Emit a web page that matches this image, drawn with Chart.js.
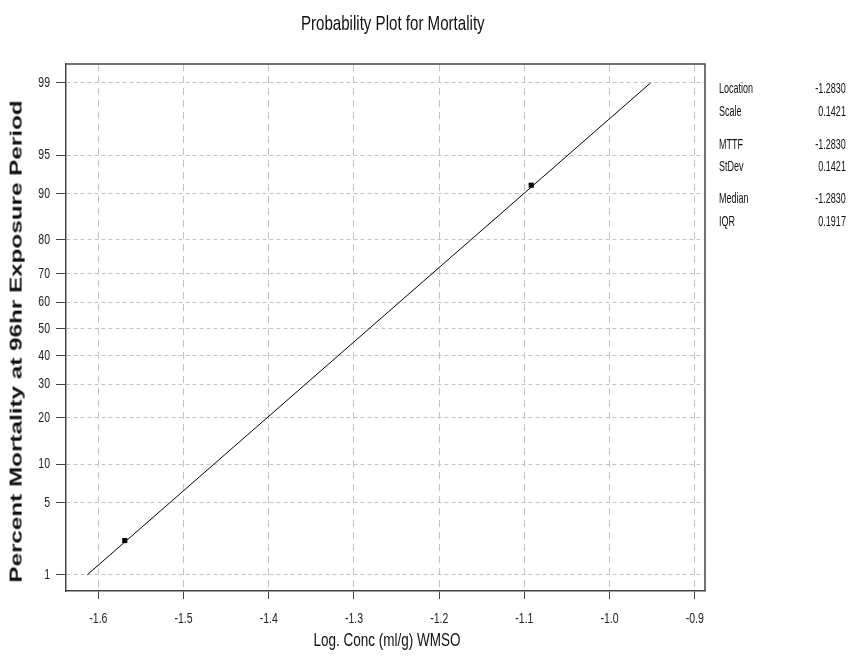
<!DOCTYPE html>
<html><head><meta charset="utf-8">
<script src="https://cdn.jsdelivr.net/npm/chart.js@4.4.1/dist/chart.umd.min.js"></script>
<style>
html,body{margin:0;padding:0;background:#fff;}
#wrap{position:relative;width:848px;height:660px;overflow:hidden;background:#fff;}
canvas{position:absolute;left:0;top:0;}
.t{position:absolute;white-space:nowrap;line-height:1;font-family:"Liberation Sans",Arial,sans-serif;color:#111;left:0;top:0;}
</style></head><body>
<div id="wrap"><canvas id="c" width="848" height="660"></canvas>
<div id="title" class="t">Probability Plot for Mortality</div>
<div id="xt" class="t">Log. Conc (ml/g) WMSO</div>
<div id="yt" class="t">Percent Mortality at 96hr Exposure Period</div>
</div>
<script>
// ---- data ----
const xTicks = [-1.6, -1.5, -1.4, -1.3, -1.2, -1.1, -1.0, -0.9];
const yTickPct = [1, 5, 10, 20, 30, 40, 50, 60, 70, 80, 90, 95, 99];
const pointX = [-1.569, -1.092];
const pointPct = [2.26, 91.3];
const lineX = [-1.613, -0.952];
const linePct = [1, 99];
const statLabels = ["Location", "Scale", "MTTF", "StDev", "Median", "IQR"];
const statValues = ["-1.2830", "0.1421", "-1.2830", "0.1421", "-1.2830", "0.1917"];

// inverse standard normal CDF (probability-paper scale transform)
function probit(p) {
  const a = [-3.969683028665376e+01, 2.209460984245205e+02, -2.759285104469687e+02, 1.383577518672690e+02, -3.066479806614716e+01, 2.506628277459239e+00];
  const b = [-5.447609879822406e+01, 1.615858368580409e+02, -1.556989798598866e+02, 6.680131188771972e+01, -1.328068155288572e+01];
  const c = [-7.784894002430293e-03, -3.223964580411365e-01, -2.400758277161838e+00, -2.549732539343734e+00, 4.374664141464968e+00, 2.938163982698783e+00];
  const d = [7.784695709041462e-03, 3.224671290700398e-01, 2.445134137142996e+00, 3.754408661907416e+00];
  const pl = 0.02425, ph = 1 - pl;
  let q, r;
  if (p < pl) {
    q = Math.sqrt(-2 * Math.log(p));
    return (((((c[0]*q+c[1])*q+c[2])*q+c[3])*q+c[4])*q+c[5]) / ((((d[0]*q+d[1])*q+d[2])*q+d[3])*q+1);
  } else if (p <= ph) {
    q = p - 0.5; r = q * q;
    return (((((a[0]*r+a[1])*r+a[2])*r+a[3])*r+a[4])*r+a[5])*q / (((((b[0]*r+b[1])*r+b[2])*r+b[3])*r+b[4])*r+1);
  } else {
    q = Math.sqrt(-2 * Math.log(1 - p));
    return -(((((c[0]*q+c[1])*q+c[2])*q+c[3])*q+c[4])*q+c[5]) / ((((d[0]*q+d[1])*q+d[2])*q+d[3])*q+1);
  }
}

const tickFont = { family: "'Liberation Sans',Arial,sans-serif", size: 15 };
const LABEL_SQUEEZE = 0.7;

// tick labels in the reference are horizontally condensed: squeeze each label about its anchor
const condensePlugin = {
  id: 'condense',
  beforeDraw(chart) {
    const ctx = chart.ctx;
    const ft = ctx.fillText;
    chart.$origFillText = ft;
    ctx.fillText = function (t, x, y) {
      this.save();
      this.translate(x, y);
      this.scale(LABEL_SQUEEZE, 1);
      ft.call(this, t, 0, 0);
      this.restore();
    };
  },
  afterDraw(chart) {
    if (chart.$origFillText) chart.ctx.fillText = chart.$origFillText;
  }
};

const framePlugin = {
  id: 'frame',
  afterDraw(chart) {
    const { ctx, chartArea: a } = chart;
    ctx.save();
    ctx.strokeStyle = '#444';
    ctx.lineWidth = 1.5;
    ctx.beginPath();
    ctx.moveTo(a.left, a.top);
    ctx.lineTo(a.right, a.top);
    ctx.lineTo(a.right, a.bottom);
    ctx.stroke();
    ctx.restore();
  }
};

new Chart(document.getElementById('c'), {
  type: 'scatter',
  data: {
    datasets: [
      {
        data: lineX.map((x, i) => ({ x: x, y: probit(linePct[i] / 100) })),
        showLine: true, borderColor: '#000', borderWidth: 1, pointRadius: 0, fill: false
      },
      {
        data: pointX.map((x, i) => ({ x: x, y: probit(pointPct[i] / 100) })),
        pointStyle: 'rect', pointRadius: 3.6, backgroundColor: '#000', borderColor: '#000', borderWidth: 0
      }
    ]
  },
  options: {
    responsive: false, animation: false, devicePixelRatio: 1,
    layout: { padding: { top: 64, right: 143, left: 0, bottom: 0 } },
    plugins: { legend: { display: false }, tooltip: { enabled: false }, title: { display: false } },
    scales: {
      x: {
        type: 'linear', min: -1.638, max: -0.888,
        afterBuildTicks: s => { s.ticks = xTicks.map(v => ({ value: v })); },
        afterFit: s => { s.height = 69; },
        ticks: { autoSkip: false, maxRotation: 0, padding: 11, color: '#222', font: tickFont,
          callback: v => Number(v).toFixed(1) },
        grid: { color: '#c4c4c4', lineWidth: 1, tickColor: '#444', tickLength: 8, tickWidth: 1 },
        border: { display: true, color: '#444', width: 1.5, dash: [7, 5] }
      },
      y: {
        type: 'linear', min: -2.48, max: 2.506,
        afterBuildTicks: s => { s.ticks = yTickPct.map(p => ({ value: probit(p / 100) })); },
        afterFit: s => { s.width = 66; },
        ticks: { autoSkip: false, padding: 6, color: '#222', font: tickFont,
          callback: (v, i) => String(yTickPct[i]) },
        grid: { color: '#c4c4c4', lineWidth: 1, tickColor: '#444', tickLength: 10, tickWidth: 1 },
        border: { display: true, color: '#444', width: 1.5, dash: [4, 3] }
      }
    }
  },
  plugins: [condensePlugin, framePlugin]
});

// ---- text placement (horizontal compression to match the reference) ----
function fitH(el, font, left, right, cy, align, scale) {
  el.style.font = font; el.style.lineHeight = '1';
  const w = el.offsetWidth, h = el.offsetHeight;
  const s = scale != null ? scale : (right - left) / w;
  el.style.top = (cy - h / 2) + 'px';
  if (align === 'center') { el.style.left = ((left + right) / 2 - w / 2) + 'px'; el.style.transformOrigin = 'center center'; }
  else if (align === 'left') { el.style.left = left + 'px'; el.style.transformOrigin = 'left center'; }
  else { el.style.left = (right - w) + 'px'; el.style.transformOrigin = 'right center'; }
  el.style.transform = 'scaleX(' + s + ')';
  return s;
}
const F = '"Liberation Sans",Arial,sans-serif';
fitH(document.getElementById('title'), '21px ' + F, 301, 485, 22.5, 'center');
fitH(document.getElementById('xt'), '18px ' + F, 313, 460, 640, 'center');

const yt = document.getElementById('yt');
yt.style.font = 'bold 17px ' + F; yt.style.lineHeight = '1';
{
  const w = yt.offsetWidth, h = yt.offsetHeight;
  const s = 482 / w;
  yt.style.left = (16 - w / 2) + 'px';
  yt.style.top = (341 - h / 2) + 'px';
  yt.style.transformOrigin = 'center center';
  yt.style.transform = 'rotate(-90deg) scaleX(' + s + ')';
}

const rowY = [87, 110, 143, 165, 197, 220];
const wrap = document.getElementById('wrap');
statLabels.forEach((lab, i) => {
  const a = document.createElement('div'); a.className = 't'; a.textContent = lab; wrap.appendChild(a);
  fitH(a, '15px ' + F, 719, 0, rowY[i], 'left', 0.6);
  const b = document.createElement('div'); b.className = 't'; b.textContent = statValues[i]; wrap.appendChild(b);
  fitH(b, '15px ' + F, 0, 846, rowY[i], 'right', 0.6);
});
</script>
</body></html>
